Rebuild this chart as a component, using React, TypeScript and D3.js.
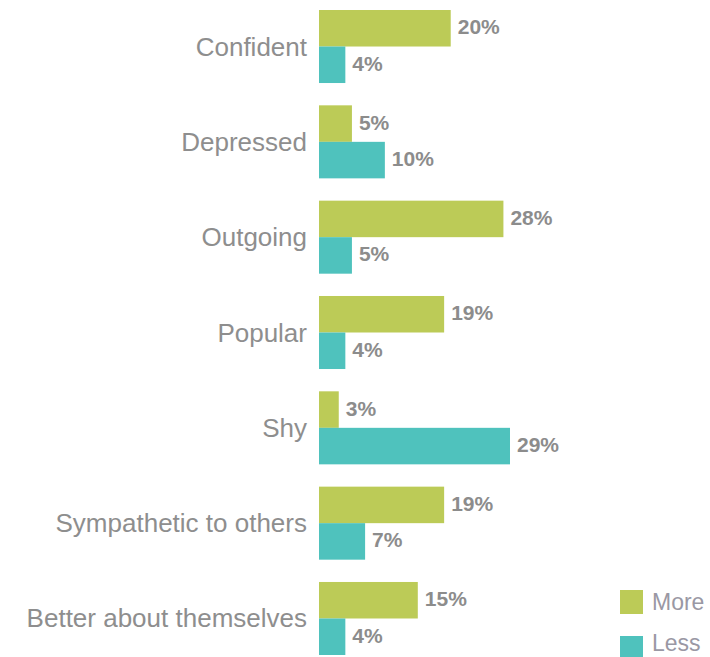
import React from "react";
import * as d3 from "d3";

const categories = [
  "Confident",
  "Depressed",
  "Outgoing",
  "Popular",
  "Shy",
  "Sympathetic to others",
  "Better about themselves",
];
const moreValues = [20, 5, 28, 19, 3, 19, 15];
const lessValues = [4, 10, 5, 4, 29, 7, 4];
const seriesNames = ["More", "Less"];

const W = 710;
const H = 657;
const GREEN = "#bccb57";
const TEAL = "#4fc2bd";

export default function App() {
  const y = d3
    .scaleBand<string>()
    .domain(categories)
    .range([10, 655])
    .paddingInner(0.234)
    .paddingOuter(0)
    .align(0);
  const x = d3.scaleLinear().domain([0, 29]).range([319, 510]);
  const bh = y.bandwidth() / 2;
  const series = [
    { name: seriesNames[0], values: moreValues, color: GREEN },
    { name: seriesNames[1], values: lessValues, color: TEAL },
  ];
  const font = "'Liberation Sans', Arial, Helvetica, sans-serif";
  const legendTops = [590, 636];

  return (
    <div style={{ position: "absolute", left: 0, top: 0 }}>
      <svg width={W} height={H} style={{ display: "block", background: "#fff" }}>
        {categories.map((c, i) => {
          const y0 = y(c)!;
          return (
            <g key={c}>
              <text
                x={307}
                y={y0 + y.bandwidth() / 2 + 9}
                textAnchor="end"
                fontFamily={font}
                fontSize={26}
                fill="#8e8e8e"
              >
                {c}
              </text>
              {series.map((s, j) => {
                const v = s.values[i];
                const by = y0 + j * bh;
                return (
                  <g key={s.name}>
                    <rect x={x(0)} y={by} width={x(v) - x(0)} height={bh} fill={s.color} />
                    <text
                      x={x(v) + 7}
                      y={by + bh / 2 + 6}
                      fontFamily={font}
                      fontSize={21}
                      fontWeight="bold"
                      fill="#8c8c8c"
                    >
                      {v}%
                    </text>
                  </g>
                );
              })}
            </g>
          );
        })}
        {series.map((s, j) => (
          <g key={s.name} transform={`translate(620, ${legendTops[j]})`}>
            <rect x={0} y={0} width={23} height={j === 0 ? 24 : 21} fill={s.color} />
            <text x={32} y={j === 0 ? 20 : 15} fontFamily={font} fontSize={23} fill="#9a98a4">
              {s.name}
            </text>
          </g>
        ))}
      </svg>
    </div>
  );
}
